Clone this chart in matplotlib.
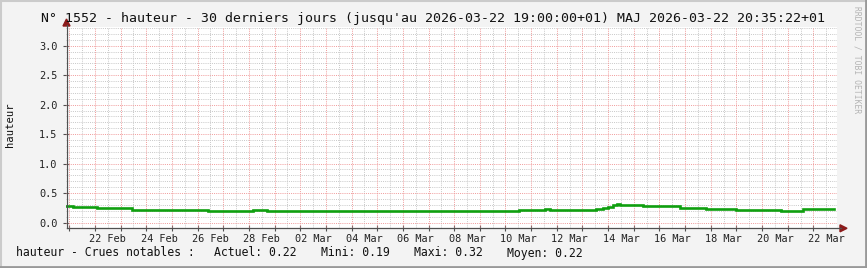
import numpy as np
import pandas as pd
import matplotlib
matplotlib.use('Agg')
import matplotlib.pyplot as plt
from matplotlib.lines import Line2D
from matplotlib.patches import Polygon

plt.rcParams['font.family'] = ['DejaVu Sans Mono']

# Water level steps (value holds until next time)
times = ['2026-02-20 21:00', '2026-02-21 03:00', '2026-02-22 02:00', '2026-02-23 11:00',
         '2026-02-25 19:00', '2026-02-26 10:00', '2026-02-26 13:00', '2026-02-28 04:00',
         '2026-02-28 09:00', '2026-02-28 13:00', '2026-02-28 17:00', '2026-03-04 11:00',
         '2026-03-04 14:00', '2026-03-06 05:00', '2026-03-06 21:00', '2026-03-10 13:00',
         '2026-03-10 18:00', '2026-03-11 06:00', '2026-03-11 13:00', '2026-03-11 18:00',
         '2026-03-12 10:00', '2026-03-13 07:00', '2026-03-13 13:00', '2026-03-13 19:00',
         '2026-03-14 00:00', '2026-03-14 05:00', '2026-03-14 08:00', '2026-03-14 11:00',
         '2026-03-14 22:00', '2026-03-15 09:00', '2026-03-16 19:00', '2026-03-17 16:00',
         '2026-03-17 20:00', '2026-03-19 00:00', '2026-03-19 07:00', '2026-03-19 10:00',
         '2026-03-20 14:00', '2026-03-20 18:00', '2026-03-21 14:00', '2026-03-22 19:00']
values = [0.275, 0.26, 0.24, 0.22,
          0.205, 0.19, 0.20, 0.22,
          0.21, 0.22, 0.20, 0.195,
          0.20, 0.19, 0.20, 0.21,
          0.205, 0.22, 0.225, 0.22,
          0.205, 0.215, 0.23, 0.245,
          0.265, 0.29, 0.32, 0.30,
          0.29, 0.275, 0.245, 0.25,
          0.222, 0.207, 0.215, 0.207,
          0.22, 0.20, 0.222, 0.222]

tick_dates = ['2026-02-22', '2026-02-24', '2026-02-26', '2026-02-28', '2026-03-02',
              '2026-03-04', '2026-03-06', '2026-03-08', '2026-03-10', '2026-03-12',
              '2026-03-14', '2026-03-16', '2026-03-18', '2026-03-20', '2026-03-22']
tick_labels = ['22 Feb', '24 Feb', '26 Feb', '28 Feb', '02 Mar', '04 Mar', '06 Mar',
               '08 Mar', '10 Mar', '12 Mar', '14 Mar', '16 Mar', '18 Mar', '20 Mar', '22 Mar']

title = ("N° 1552 - hauteur - 30 derniers jours (jusqu'au 2026-03-22 19:00:00+01) "
         "MAJ 2026-03-22 20:35:22+01")
legend_items = ['hauteur - Crues notables :', 'Actuel: 0.22', 'Mini: 0.19',
                'Maxi: 0.32', 'Moyen: 0.22']

W, H = 867, 268
t = pd.to_datetime(times)

fig = plt.figure(figsize=(W / 100, H / 100), dpi=100, facecolor='#f3f3f3')
ax = fig.add_axes([66 / W, 1 - 228.3 / H, (837 - 66) / W, (228.3 - 27.5) / H])
ax.set_facecolor('white')

x0 = pd.Timestamp('2026-02-21') - pd.Timedelta(hours=3.1)
x1 = pd.Timestamp('2026-02-21') + pd.Timedelta(days=29.92)
ax.set_xlim(x0, x1)
ax.set_ylim(-0.098, 3.31)

# grid: gray minor (noon / 0.1), red major (midnight / 0.5)
dot = (0, (1, 1.2))
days = pd.date_range('2026-02-21', '2026-03-22', freq='D')
noons = pd.date_range('2026-02-20 12:00', '2026-03-22 12:00', freq='D')
for d in noons:
    ax.axvline(d, color='#c8c8c8', lw=0.7, ls=dot, zorder=1)
for yv in np.arange(0, 3.31, 0.1):
    if abs(yv / 0.5 - round(yv / 0.5)) > 1e-6:
        ax.axhline(yv, color='#c8c8c8', lw=0.7, ls=dot, zorder=1)
for d in days:
    ax.axvline(d, color='#f09a9a', lw=0.7, ls=dot, zorder=2)
for yv in np.arange(0, 3.31, 0.5):
    ax.axhline(yv, color='#f09a9a', lw=0.7, ls=dot, zorder=2)

# series
ax.plot(t, values, drawstyle='steps-post', color='#0f9f0f', lw=1.9, zorder=3,
        solid_joinstyle='miter')

for s in ax.spines.values():
    s.set_visible(False)

ax.set_xticks(days)
ax.set_xticklabels([])
ax.set_xticks(pd.to_datetime(tick_dates) + pd.Timedelta(hours=12), minor=True)
ax.set_xticklabels(tick_labels, minor=True)
ax.tick_params(axis='x', which='major', length=4, direction='inout', color='#505050', width=0.8)
ax.tick_params(axis='x', which='minor', length=0, pad=4, labelsize=7.4, labelcolor='#222222')
ax.set_yticks(np.arange(0, 3.01, 0.5))
ax.set_yticklabels(['%.1f' % v for v in np.arange(0, 3.01, 0.5)])
ax.tick_params(axis='y', length=4, direction='inout', color='#505050', width=0.8,
               pad=4, labelsize=7.4, labelcolor='#222222')

# axis lines with arrows
fig.add_artist(Line2D([66.5 / W, 841 / W], [1 - 228.3 / H, 1 - 228.3 / H], color='#505050', lw=0.9))
fig.add_artist(Line2D([66.5 / W, 66.5 / W], [1 - 228.3 / H, 1 - 25 / H], color='#505050', lw=0.9))
fig.add_artist(Polygon([(66.5 / W, 1 - 19 / H), (63 / W, 1 - 26 / H), (70 / W, 1 - 26 / H)],
                       closed=True, color='#8b1a1a', transform=fig.transFigure))
fig.add_artist(Polygon([(847 / W, 1 - 228.3 / H), (840 / W, 1 - 224.8 / H), (840 / W, 1 - 231.8 / H)],
                       closed=True, color='#8b1a1a', transform=fig.transFigure))

# texts
fig.text(433 / W, 1 - 18.5 / H, title, ha='center', va='center', fontsize=9.5, color='#111111')
fig.text(10 / W, 1 - 125 / H, 'hauteur', rotation=90, ha='center', va='center',
         fontsize=7.6, color='#111111')
fig.text(857 / W, 1 - 6 / H, 'RRDTOOL / TOBI OETIKER', rotation=270, ha='center', va='top',
         fontsize=5.8, color='#b4b4b4')
for label, xp in zip(legend_items, [16, 214, 321, 414, 507]):
    fig.text(xp / W, 1 - 253 / H, label, ha='left', va='center', fontsize=8.3, color='#111111')

# 3D-ish frame
fig.add_artist(Line2D([0, 1], [1 - 0.5 / H, 1 - 0.5 / H], color='#cbcbcb', lw=1.5))
fig.add_artist(Line2D([0.5 / W, 0.5 / W], [0, 1], color='#cbcbcb', lw=1.5))
fig.add_artist(Line2D([0, 1], [1.0 / H, 1.0 / H], color='#999999', lw=2))
fig.add_artist(Line2D([1 - 1.0 / W, 1 - 1.0 / W], [0, 1], color='#999999', lw=2))

fig.savefig('out.png', dpi=100, facecolor=fig.get_facecolor())
